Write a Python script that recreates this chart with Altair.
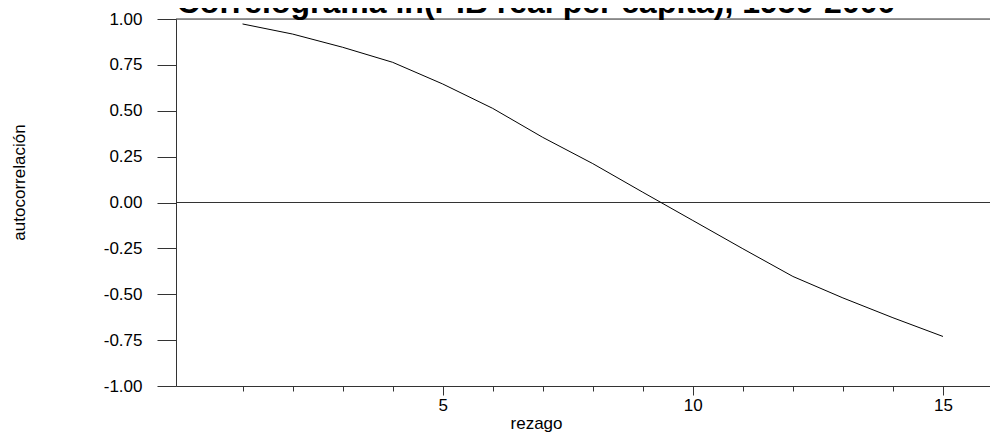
import altair as alt
import pandas as pd

lags = list(range(1, 16))
acf = [0.973, 0.918, 0.846, 0.764, 0.646, 0.513, 0.355, 0.212, 0.056,
       -0.098, -0.252, -0.403, -0.520, -0.628, -0.730]
y_ticks = [-1.0, -0.75, -0.5, -0.25, 0.0, 0.25, 0.5, 0.75, 1.0]
x_ticks = list(range(1, 17))
ref_lines = [0.0, 1.0]

title_text = "Correlograma ln(PIB real per cápita), 1950-2000"
x_title = "rezago"
y_title = "autocorrelación"

FONT = "Liberation Sans"
AX = "#333333"

df = pd.DataFrame({"lag": lags, "acf": acf})
ref = pd.DataFrame({"y": ref_lines})

xscale = alt.Scale(domain=[-0.33, 16.1], nice=False, zero=False)
yscale = alt.Scale(domain=[-1, 1], nice=False)

x_axis = alt.Axis(
    title=x_title, values=x_ticks,
    labelExpr="datum.value % 5 == 0 ? format(datum.value, 'd') : ''",
    tickSize={"condition": {"test": "datum.value % 5 != 0", "value": 5}, "value": 9},
    labelPadding=2, grid=False, domainColor=AX, tickColor=AX,
    labelFont=FONT, labelFontSize=17, labelColor="black",
    titleFont=FONT, titleFontSize=17, titleFontWeight="normal", titleColor="black",
    titleX=360, titleY=37, titleBaseline="middle", titleAnchor="start", titleAlign="center",
)
y_axis = alt.Axis(
    title=y_title, values=y_ticks,
    labelExpr="(datum.value < 0 ? '-' : '') + format(abs(datum.value), '.2f')",
    tickSize=19, labelPadding=15, grid=False, domainColor=AX, tickColor=AX,
    labelFont=FONT, labelFontSize=17, labelColor="black",
    titleFont=FONT, titleFontSize=17, titleFontWeight="normal", titleColor="black",
    titleX=-157, titleY=163, titleAngle=-90, titleAlign="center", titleBaseline="middle",
)

line = alt.Chart(df).mark_line(color="black", strokeWidth=1).encode(
    x=alt.X("lag:Q", scale=xscale, axis=x_axis),
    y=alt.Y("acf:Q", scale=yscale, axis=y_axis),
)
rules = alt.Chart(ref).mark_rule(color=AX, strokeWidth=1).encode(
    y=alt.Y("y:Q", scale=yscale),
)

chart = alt.layer(rules, line).properties(
    width=822, height=367,
    autosize=alt.AutoSizeParams(type="none"),
    padding={"left": 168, "top": 11, "right": -8, "bottom": 48},
    title=alt.TitleParams(
        text=title_text, font=FONT, fontSize=32, fontWeight="bold", color="black",
        anchor="middle", dx=-51, dy=40, frame="group", offset=5, baseline="alphabetic",
    ),
).configure_view(stroke=None).configure(background="white")

chart.save("out.html", embed_options={"renderer": "svg", "actions": False})
